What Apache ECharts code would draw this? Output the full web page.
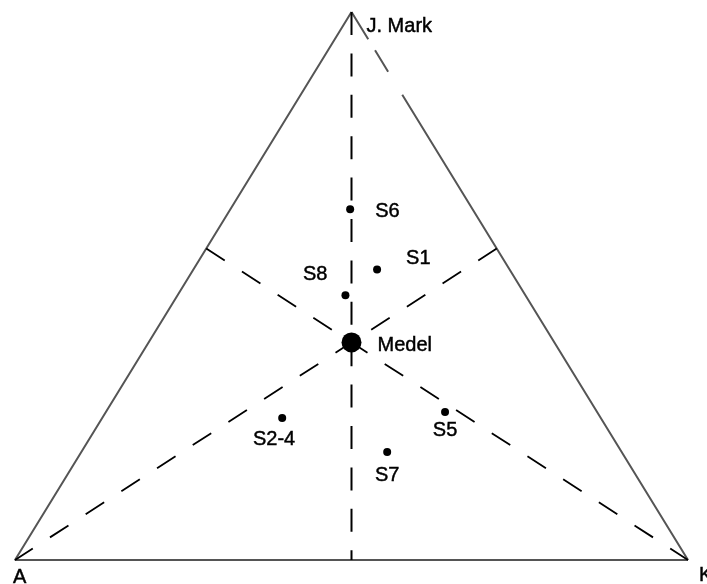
<!DOCTYPE html>
<html><head><meta charset="utf-8">
<script src="https://cdn.jsdelivr.net/npm/echarts@6/dist/echarts.min.js"></script>
<style>html,body{margin:0;padding:0;background:#fff}#c{width:707px;height:584px}</style>
</head><body><div id="c"></div>
<script>
// Triangle corners (data units, 0-100 plane)
const vertexNames = ['A', 'K', 'J. Mark'];
const vertexX = [0, 100, 50];
const vertexY = [0, 0, 100];

// Samples
const sampleNames = ['Medel', 'S6', 'S1', 'S8', 'S2-4', 'S5', 'S7'];
const sampleX = [50.0, 49.8, 53.8, 49.1, 39.7, 63.9, 55.3];
const sampleY = [39.7, 64.0, 53.0, 48.3, 25.9, 27.0, 19.7];

// ---- styling (kept apart from data) ----
const FONT = { fontFamily: 'Liberation Sans, Arial, sans-serif', fontSize: 20, color: '#000',
  textBorderColor: '#000', textBorderWidth: 0.45 };
const labelStyle = {
  'Medel': { align: 'left', offset: [26, 3] },
  'S6': { align: 'left', offset: [25, 2] },
  'S1': { align: 'left', offset: [29, -11] },
  'S8': { align: 'right', offset: [-18, -21] },
  'S2-4': { align: 'right', offset: [13, 21] },
  'S5': { align: 'center', offset: [0, 18] },
  'S7': { align: 'center', offset: [0, 23] },
  'J. Mark': { align: 'left', offset: [15, 14] },
  'A': { align: 'left', offset: [-2, 17] },
  'K': { align: 'left', offset: [11, 15] }
};

function pt(i) { return [vertexX[i], vertexY[i]]; }
const A = pt(0), K = pt(1), J = pt(2);
const M = [sampleX[0], sampleY[0]];

// intersection of ray P->Q with segment S1-S2
function hit(P, Q, S1, S2) {
  const dx = Q[0] - P[0], dy = Q[1] - P[1];
  const ex = S2[0] - S1[0], ey = S2[1] - S1[1];
  const den = dx * ey - dy * ex;
  const t = ((S1[0] - P[0]) * ey - (S1[1] - P[1]) * ex) / den;
  return [P[0] + t * dx, P[1] + t * dy];
}

// guide lines through the mean point (drawn from the opposite edge toward the corner)
const lineA = [hit(A, M, J, K), A];
const lineK = [hit(K, M, A, J), K];
const lineJ = [J, hit(J, M, A, K)];

function mk(name, x, y, size) {
  const s = labelStyle[name];
  return {
    value: [x, y], name: name, symbolSize: size,
    label: Object.assign({ show: true, position: 'inside', verticalAlign: 'middle', formatter: name }, FONT, s)
  };
}

const scatterData = sampleNames.map((n, i) => mk(n, sampleX[i], sampleY[i], i === 0 ? 20 : 8));
const vertexData = vertexNames.map((n, i) => mk(n, vertexX[i], vertexY[i], 0));

const edgeColor = '#555';
const chart = echarts.init(document.getElementById('c'), null, { renderer: 'canvas' });
chart.setOption({
  animation: false,
  backgroundColor: '#fff',
  grid: { left: 15, right: 19, top: 12, bottom: 24 },
  xAxis: { type: 'value', min: 0, max: 100, show: false },
  yAxis: { type: 'value', min: 0, max: 100, show: false },
  series: [
    { type: 'line', data: [J, A, K], showSymbol: false, lineStyle: { color: edgeColor, width: 2 }, z: 2 },
    { type: 'line', data: [J, K], showSymbol: false, lineStyle: { color: edgeColor, width: 2, type: [32, 13, 25, 27, 2000] }, z: 2 },
    { type: 'line', data: lineJ, showSymbol: false, lineStyle: { color: '#000', width: 2, type: [23, 18.4] }, z: 3 },
    { type: 'line', data: lineA, showSymbol: false, lineStyle: { color: '#000', width: 1.8, type: [22, 20.5] }, z: 3 },
    { type: 'line', data: lineK, showSymbol: false, lineStyle: { color: '#000', width: 1.8, type: [22, 20.5] }, z: 3 },
    { type: 'scatter', data: scatterData, symbol: 'circle', itemStyle: { color: '#000', opacity: 1 }, z: 5 },
    { type: 'scatter', data: vertexData, symbol: 'circle', itemStyle: { color: '#000', opacity: 1 }, z: 5 }
  ]
});
</script>
</body></html>
